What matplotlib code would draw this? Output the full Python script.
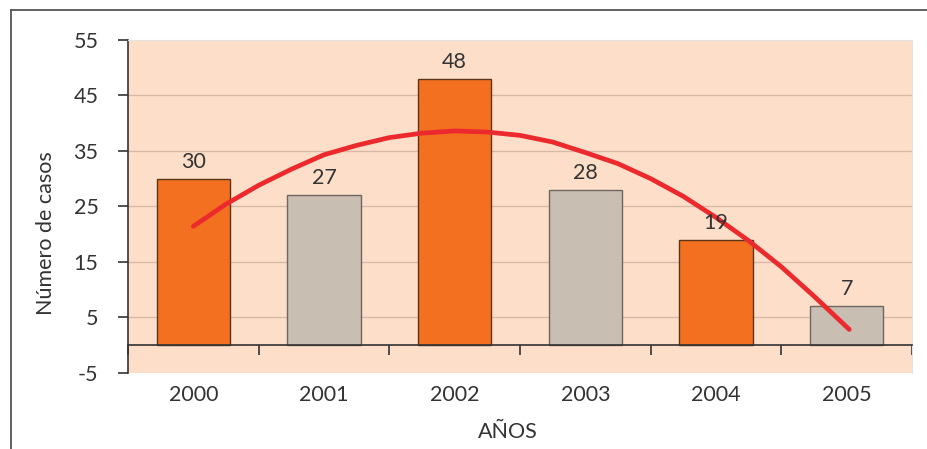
import matplotlib
matplotlib.use("Agg")
import matplotlib.pyplot as plt
from matplotlib.lines import Line2D
import numpy as np

# ---- data ----
years = ["2000", "2001", "2002", "2003", "2004", "2005"]
cases = [30, 27, 48, 28, 19, 7]
bar_colors = ["#F37021", "#C9BEB2", "#F37021", "#C9BEB2", "#F37021", "#C9BEB2"]
edge_colors = ["#5A3518", "#6E6660", "#5A3518", "#6E6660", "#5A3518", "#6E6660"]
# trend line (category index, value)
trend_x = [0, 0.25, 0.5, 0.75, 1, 1.25, 1.5, 1.75, 2, 2.25, 2.5, 2.75, 3,
           3.25, 3.5, 3.75, 4, 4.25, 4.5, 4.75, 5.02]
trend_y = [21.4, 25.4, 28.8, 31.7, 34.3, 36.0, 37.4, 38.2, 38.6, 38.4, 37.8,
           36.6, 34.7, 32.7, 30.0, 26.8, 23.0, 18.8, 14.1, 8.8, 2.8]
yticks = [-5, 5, 15, 25, 35, 45, 55]

plt.rcParams['font.family'] = ['Lato', 'DejaVu Sans']
W, H = 928, 449
fig = plt.figure(figsize=(W / 100, H / 100), dpi=100)
fig.patch.set_facecolor("white")

L, R, T, B = 128, 912, 40, 372.7
ax = fig.add_axes([L / W, 1 - B / H, (R - L) / W, (B - T) / H])
ax.set_facecolor("#FDDFC9")

FS = 15.5
x = np.arange(len(years))
ax.bar(x, cases, width=0.56, color=bar_colors, edgecolor=edge_colors,
       linewidth=1.0, zorder=3)
for xi, v in zip(x, cases):
    ax.annotate(str(v), (xi, v), xytext=(0, 5), textcoords="offset points",
                ha="center", va="bottom", fontsize=FS, color="#333333", zorder=5)

ax.plot(trend_x, trend_y, color="#EC2A2E", lw=3.4, solid_capstyle="round",
        solid_joinstyle="round", zorder=4)

ax.set_xlim(-0.5, len(years) - 0.5)
ax.set_ylim(-5, 55)

# grid
for g in [5, 15, 25, 35, 45]:
    ax.axhline(g, color="#D7B7A6", lw=1.0, zorder=1)

ax.set_yticks(yticks)
ax.set_yticklabels([str(t) for t in yticks])
ax.tick_params(axis="y", direction="out", length=7.2, width=1.2, color="#333333",
               pad=14, labelsize=FS, labelcolor="#333333")

ax.spines["bottom"].set_position(("data", 0))
ax.spines["bottom"].set_color("#333333")
ax.spines["bottom"].set_linewidth(1.2)
ax.spines["bottom"].set_zorder(6)
ax.spines["left"].set_color("#333333")
ax.spines["left"].set_linewidth(1.2)
ax.spines["top"].set_color("#E2E2E2")
ax.spines["right"].set_color("#E2E2E2")

ax.set_xticks(x)
ax.set_xticklabels(years)
ax.set_xticks(np.arange(len(years) + 1) - 0.5, minor=True)
ax.tick_params(axis="x", which="major", length=0, pad=29, labelsize=FS,
               labelcolor="#333333")
ax.tick_params(axis="x", which="minor", direction="out", length=7.2, width=1.2,
               color="#333333")

fig.text(46 / W, 1 - 233 / H, "Número de casos", rotation=90, ha="center",
         va="center", fontsize=FS, color="#333333")
fig.text(508 / W, 1 - 432 / H, "AÑOS", ha="center", va="center",
         fontsize=FS, color="#333333")

# figure frame lines
fig.add_artist(Line2D([11.5 / W, 1], [1 - 10 / H, 1 - 10 / H],
                      transform=fig.transFigure, color="#555555", lw=1.3))
fig.add_artist(Line2D([11.5 / W, 11.5 / W], [0, 1 - 10 / H],
                      transform=fig.transFigure, color="#555555", lw=1.3))

fig.savefig("out.png", dpi=100)
